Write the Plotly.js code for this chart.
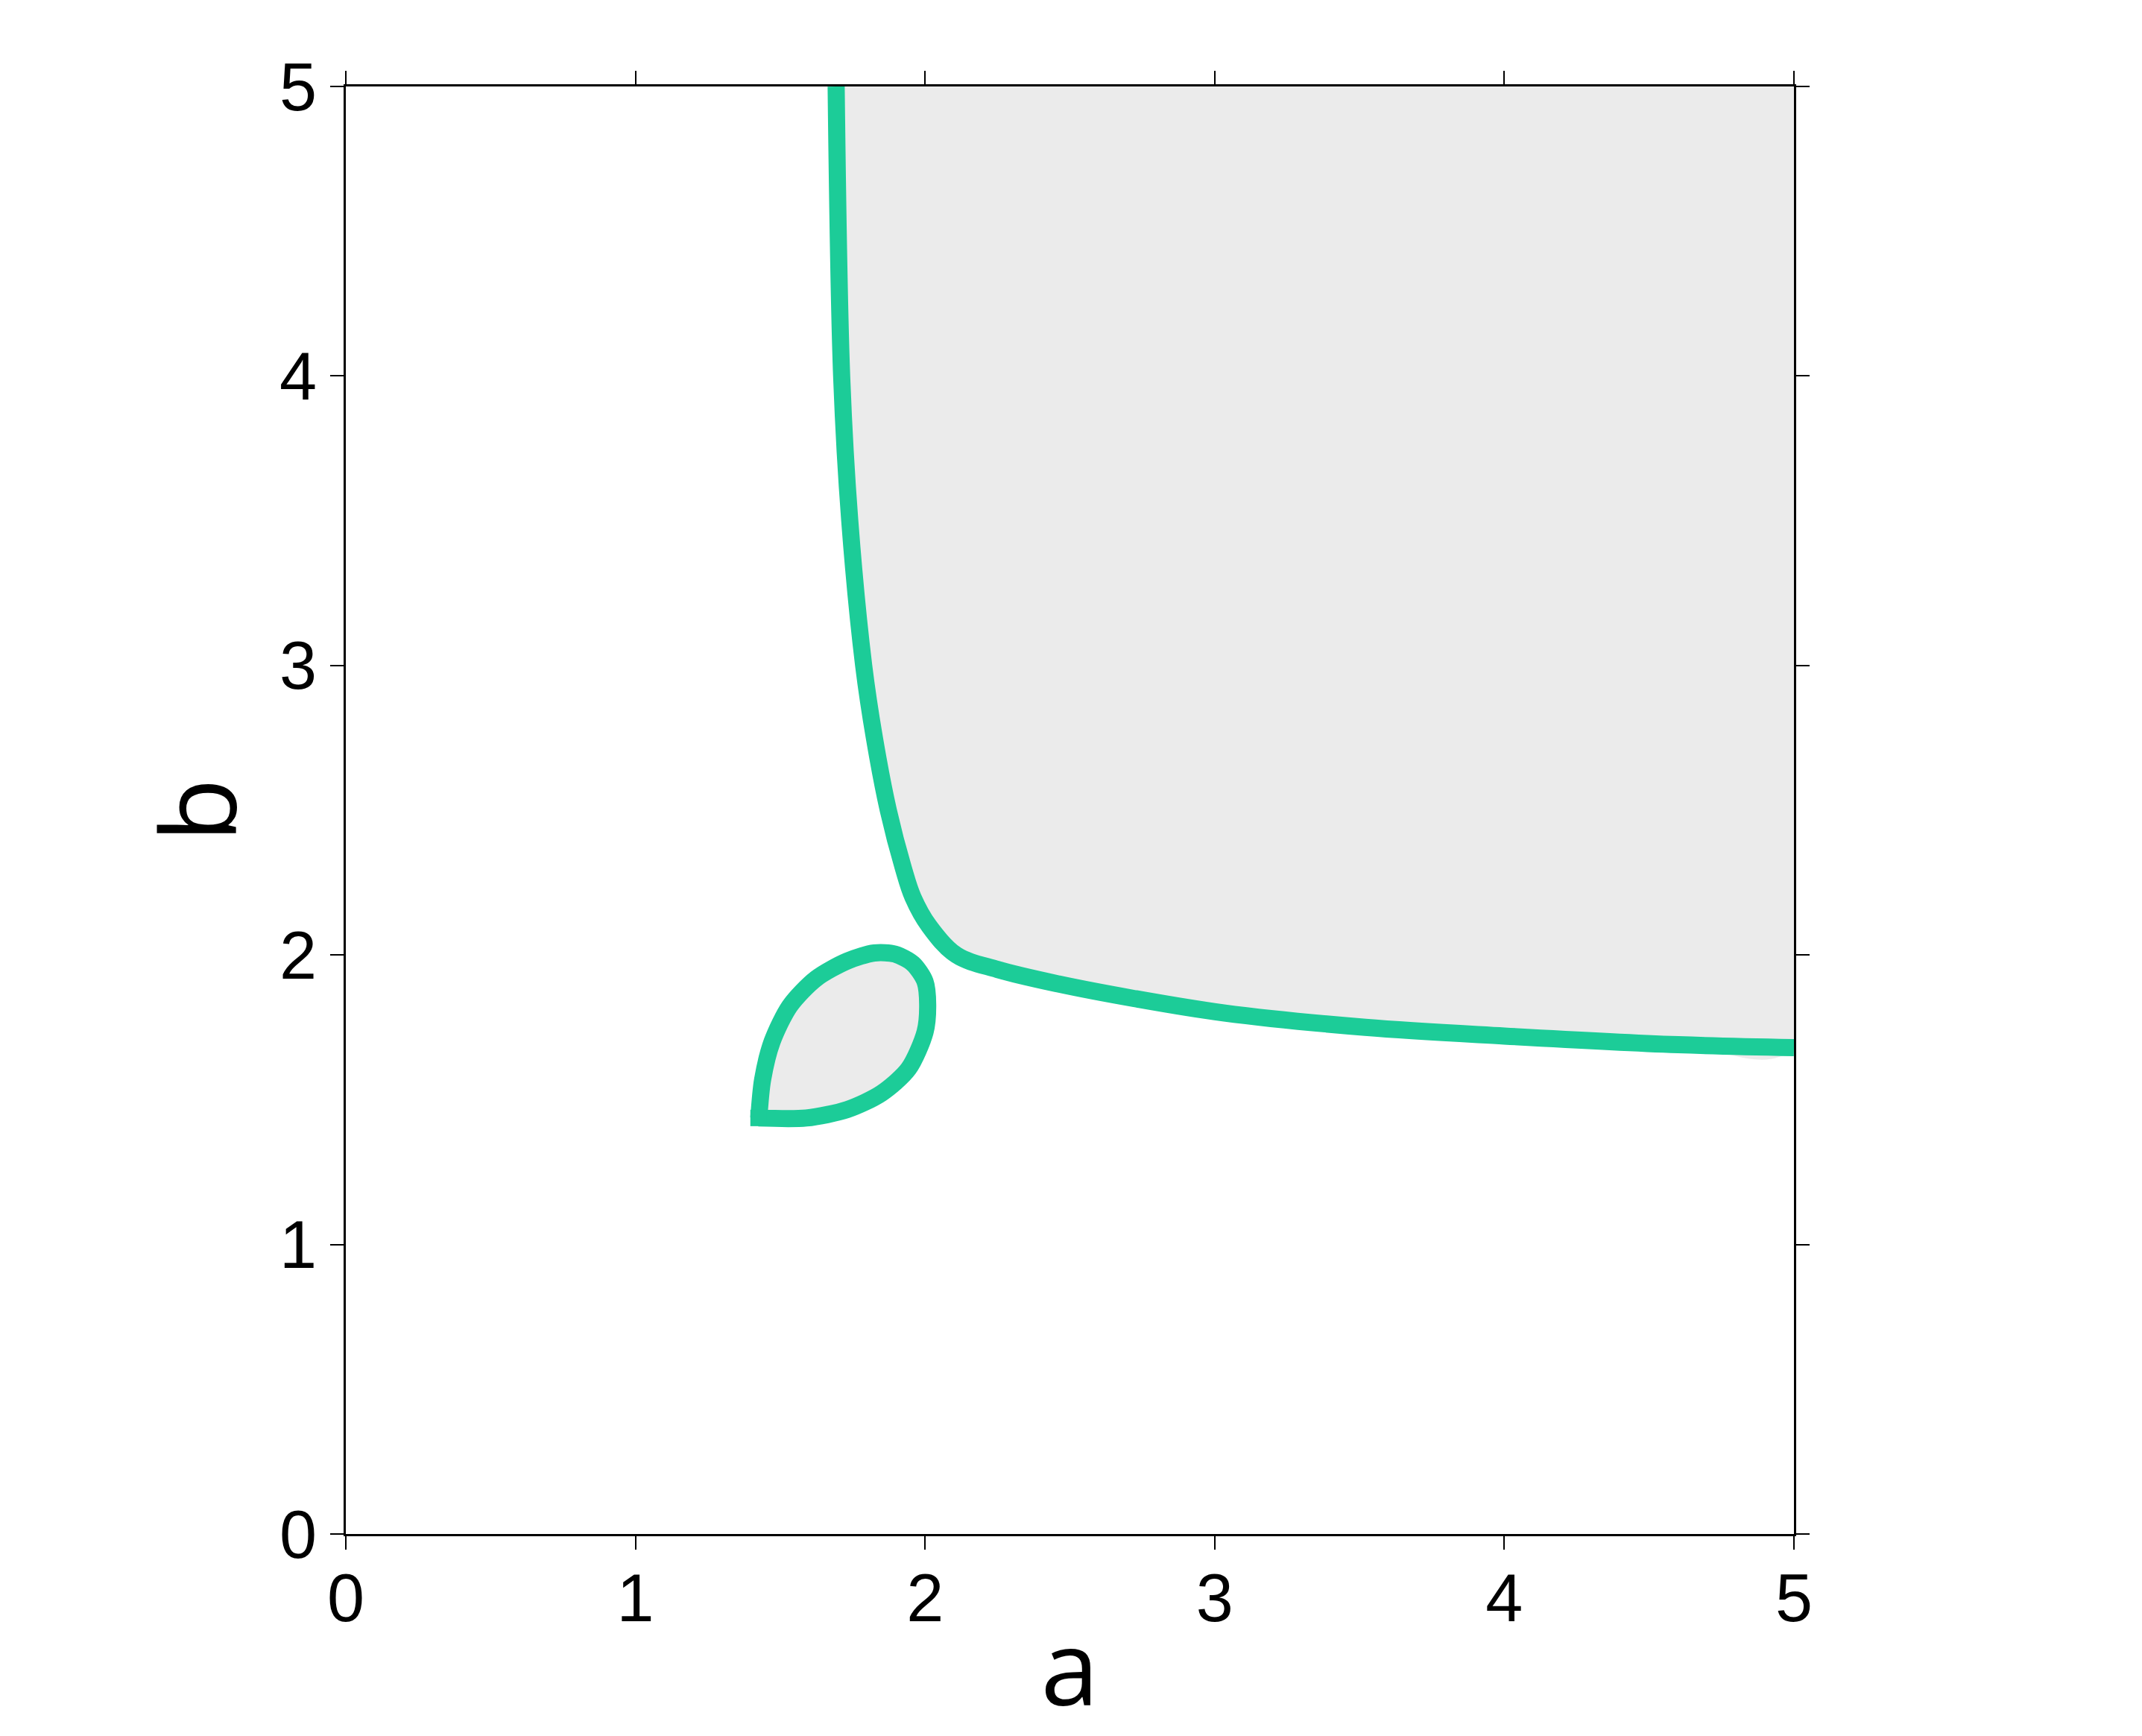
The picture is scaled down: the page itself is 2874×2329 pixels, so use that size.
<!DOCTYPE html>
<html>
<head>
<meta charset="utf-8">
<script src="https://cdn.plot.ly/plotly-3.0.1.min.js"></script>
<style>
  body { margin: 0; background: #fff; }
  #plot { width: 2874px; height: 2329px; }
</style>
</head>
<body>
<div id="plot"></div>
<script>
// boundary curve of the shaded region
var curveA = [1.693, 1.712, 1.74, 1.788, 1.825, 1.873, 1.925, 1.958, 2.014, 2.108, 2.25, 2.46, 2.72, 3.03, 3.52, 4.0, 4.6, 5.0];
var curveB = [5.0, 4.0, 3.5, 3.0, 2.75, 2.5, 2.3, 2.2, 2.1, 2.0, 1.95, 1.9, 1.85, 1.8, 1.75, 1.72, 1.69, 1.68];

// corner that closes the shaded region
var cornerA = [5.0];
var cornerB = [5.0];

// small teardrop loop, starting and ending at its sharp tip
var loopA = [1.425, 1.59, 1.731, 1.849, 1.943, 2.0, 2.009, 2.0, 1.958, 1.896, 1.825, 1.731, 1.623, 1.533, 1.472, 1.439, 1.426];
var loopB = [1.437, 1.437, 1.466, 1.522, 1.607, 1.734, 1.828, 1.908, 1.97, 2.003, 2.007, 1.979, 1.918, 1.824, 1.701, 1.569, 1.437];

var tickVals = [0, 1, 2, 3, 4, 5];
var tickText = ['0', '1', '2', '3', '4', '5'];

var green = '#1ccc98';
var shade = '#ebebeb';

var fillTrace = {
  x: curveA.concat(cornerA),
  y: curveB.concat(cornerB),
  mode: 'lines',
  type: 'scatter',
  fill: 'toself',
  fillcolor: shade,
  line: { width: 0, color: shade, shape: 'spline', smoothing: 1 },
  hoverinfo: 'skip'
};

var curveTrace = {
  x: curveA,
  y: curveB,
  mode: 'lines',
  type: 'scatter',
  line: { color: green, width: 23, shape: 'spline', smoothing: 1 }
};

var loopTrace = {
  x: loopA,
  y: loopB,
  mode: 'lines',
  type: 'scatter',
  fill: 'toself',
  fillcolor: shade,
  line: { color: green, width: 23, shape: 'spline', smoothing: 0.8 }
};

// square cap filling the corner at the tip of the loop
var tipTrace = {
  x: loopA.slice(0, 1),
  y: loopB.slice(0, 1),
  mode: 'markers',
  type: 'scatter',
  marker: { symbol: 'square', size: 22, color: green, line: { width: 0 } }
};

var axisCommon = {
  range: [0, 5],
  tickvals: tickVals,
  ticktext: tickText,
  showgrid: false,
  zeroline: false,
  showline: true,
  linecolor: '#000',
  linewidth: 3,
  mirror: 'ticks',
  ticks: 'outside',
  ticklen: 18,
  tickwidth: 2,
  tickcolor: '#000',
  tickfont: { family: 'Liberation Sans, Arial, sans-serif', size: 90, color: '#000' },
  fixedrange: true
};

var layout = {
  width: 2874,
  height: 2329,
  showlegend: false,
  paper_bgcolor: '#fff',
  plot_bgcolor: '#fff',
  margin: { l: 464, r: 467, t: 116, b: 271 },
  xaxis: Object.assign({}, axisCommon, {
    ticklabelstandoff: -12,
    title: { text: 'a', font: { family: 'Open Sans, sans-serif', size: 140, color: '#000' }, standoff: 0 }
  }),
  yaxis: Object.assign({}, axisCommon, {
    title: { text: 'b', font: { family: 'Open Sans, sans-serif', size: 140, color: '#000' }, standoff: 10 }
  })
};

Plotly.newPlot('plot', [fillTrace, loopTrace, curveTrace, tipTrace], layout, { staticPlot: true });
</script>
</body>
</html>
